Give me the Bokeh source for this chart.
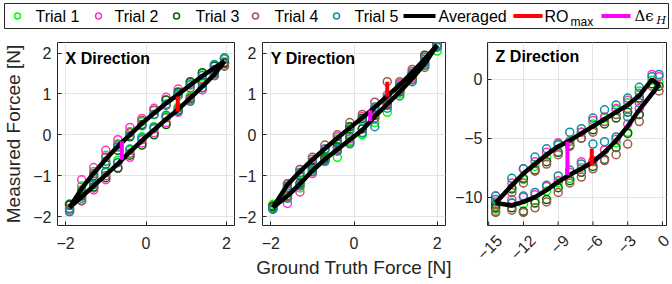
import math
from bokeh.plotting import figure
from bokeh.layouts import column, row
from bokeh.models import Range1d, FixedTicker, Label
from bokeh.core.properties import value
from bokeh.embed import file_html
from bokeh.resources import INLINE

# ---------------- data ----------------
trial_names = ["Trial 1", "Trial 2", "Trial 3", "Trial 4", "Trial 5"]
trial_colors = ["#00FF00", "#FF33CC", "#006400", "#A0594F", "#0E8FA3"]

# X direction
x_X = [-1.9, -1.6, -1.3, -1.0, -0.7, -0.4, -0.1, 0.2, 0.5, 0.8, 1.1, 1.4, 1.7, 1.95,
       1.95, 1.7, 1.4, 1.1, 0.8, 0.5, 0.2, -0.1, -0.4, -0.7, -1.0, -1.3, -1.6, -1.9]
avg_X = [-1.78, -1.52, -1.25, -0.98, -0.71, -0.42, -0.14, 0.12, 0.38, 0.62, 0.9, 1.18, 1.48, 1.8,
         1.8, 1.64, 1.44, 1.22, 0.99, 0.77, 0.53, 0.28, 0.0, -0.28, -0.6, -0.94, -1.32, -1.78]
X_t1 = [-1.72, -1.45, -1.2, -0.9, -0.62, -0.38, -0.05, 0.2, 0.45, 0.68, 0.95, 1.25, 1.55, 1.85,
        1.86, 1.7, 1.5, 1.25, 1.02, 0.85, 0.6, 0.32, 0.08, -0.22, -0.5, -0.9, -1.25, -1.7]
X_t2 = [-1.8, -1.6, -1.35, -1.1, -0.8, -0.55, -0.2, 0.05, 0.3, 0.55, 0.85, 1.1, 1.45, 1.75,
        1.78, 1.55, 1.38, 1.28, 1.12, 0.92, 0.65, 0.4, 0.18, -0.12, -0.38, -0.8, -1.1, -1.72]
X_t3 = [-1.7, -1.5, -1.28, -1.05, -0.82, -0.5, -0.25, 0.0, 0.25, 0.6, 0.9, 1.28, 1.52, 1.75,
        1.76, 1.68, 1.52, 1.3, 1.05, 0.85, 0.5, 0.25, -0.05, -0.38, -0.72, -1.0, -1.45, -1.72]
X_t4 = [-1.82, -1.62, -1.3, -1.0, -0.68, -0.45, -0.12, 0.15, 0.42, 0.65, 0.88, 1.15, 1.45, 1.68,
        1.7, 1.6, 1.35, 1.15, 0.95, 0.72, 0.6, 0.35, 0.05, -0.25, -0.55, -0.95, -1.35, -1.82]
X_t5 = [-1.88, -1.55, -1.22, -0.92, -0.68, -0.35, -0.08, 0.18, 0.48, 0.58, 0.82, 1.15, 1.5, 1.88,
        1.88, 1.72, 1.45, 1.22, 1.0, 0.75, 0.5, 0.22, -0.02, -0.3, -0.65, -1.05, -1.4, -1.88]

# Y direction
x_Y = [-1.95, -1.6, -1.3, -1.0, -0.7, -0.4, -0.1, 0.2, 0.5, 0.8, 1.1, 1.4, 1.7, 2.0,
       2.0, 1.7, 1.4, 1.1, 0.8, 0.5, 0.2, -0.1, -0.4, -0.7, -1.0, -1.3, -1.6, -1.95]
avg_Y = [-1.78, -1.5, -1.2, -0.88, -0.6, -0.36, -0.12, 0.12, 0.45, 0.75, 1.05, 1.38, 1.74, 2.2,
         2.2, 1.85, 1.53, 1.22, 0.95, 0.67, 0.42, 0.17, -0.08, -0.34, -0.61, -0.9, -1.22, -1.78]
Y_t1 = [-1.75, -1.55, -1.3, -0.85, -0.58, -0.55, -0.15, 0.0, 0.3, 0.55, 1.0, 1.45, 1.72, 2.05,
        2.15, 1.75, 1.45, 1.15, 0.85, 0.6, 0.4, 0.15, -0.1, -0.4, -0.65, -0.95, -1.3, -1.7]
Y_t2 = [-1.8, -1.68, -1.4, -0.95, -0.65, -0.38, -0.1, 0.15, 0.42, 0.78, 1.25, 1.4, 1.75, 2.15,
        2.2, 1.9, 1.55, 1.25, 0.98, 0.65, 0.45, 0.2, -0.05, -0.35, -0.6, -0.85, -1.2, -1.78]
Y_t3 = [-1.75, -1.5, -1.18, -0.82, -0.55, -0.3, -0.05, 0.15, 0.48, 0.75, 1.05, 1.35, 1.8, 2.2,
        2.2, 1.95, 1.5, 1.18, 0.85, 0.62, 0.4, 0.2, -0.2, -0.6, -0.8, -1.0, -1.3, -1.75]
Y_t4 = [-1.8, -1.5, -1.25, -0.9, -0.62, -0.35, -0.18, 0.05, 0.4, 0.72, 1.08, 1.35, 1.65, 2.15,
        2.2, 1.9, 1.6, 1.3, 1.3, 0.8, 0.5, 0.3, 0.0, -0.25, -0.55, -0.85, -1.2, -1.8]
Y_t5 = [-1.82, -1.55, -1.22, -0.9, -0.65, -0.4, -0.22, 0.05, 0.2, 0.65, 0.95, 1.3, 1.7, 2.18,
        2.15, 1.85, 1.5, 1.2, 0.92, 0.68, 0.35, 0.12, -0.15, -0.35, -0.68, -0.92, -1.25, -1.82]

# Z direction
x_Z = [-14.4, -13.0, -12.0, -11.0, -10.0, -9.0, -8.0, -7.0, -6.0, -5.0, -4.0, -3.0, -2.0, -0.3,
       -0.9, -2.0, -3.0, -4.0, -5.0, -6.0, -7.0, -8.0, -9.0, -10.0, -11.0, -12.0, -13.0, -14.4]
avg_Z = [-10.5, -10.7, -10.4, -10.0, -9.4, -8.7, -8.1, -7.6, -7.0, -6.2, -5.2, -4.0, -2.6, -0.5,
         -0.05, -1.4, -2.2, -2.8, -3.4, -4.0, -4.6, -5.2, -5.7, -6.4, -7.2, -8.0, -9.0, -10.5]
Z_t1 = [-11.0, -10.5, -10.6, -10.3, -9.5, -8.8, -8.4, -7.5, -7.0, -6.0, -5.4, -4.5, -3.0, -0.3,
        -0.1, -1.0, -2.0, -2.6, -3.3, -3.8, -4.5, -5.2, -5.6, -6.6, -7.4, -8.5, -9.2, -10.8]
Z_t2 = [-10.4, -10.2, -10.0, -9.8, -9.1, -8.6, -7.9, -7.0, -6.9, -6.0, -5.1, -3.8, -2.5, 0.2,
        0.4, -1.2, -1.8, -2.5, -3.2, -3.5, -4.5, -5.3, -5.4, -6.2, -7.0, -7.6, -8.8, -9.9]
Z_t3 = [-10.9, -10.9, -11.2, -10.5, -10.2, -9.2, -8.6, -7.9, -7.4, -6.8, -5.8, -4.6, -3.0, -0.6,
        -0.4, -1.6, -2.8, -3.3, -3.8, -4.3, -5.0, -5.6, -6.2, -7.0, -7.7, -8.4, -9.3, -10.6]
Z_t4 = [-11.3, -11.1, -11.3, -10.9, -10.4, -9.6, -8.8, -8.3, -7.6, -6.9, -6.4, -5.5, -3.6, -1.0,
        -0.6, -1.7, -2.5, -3.0, -3.6, -4.5, -5.0, -5.7, -6.4, -7.2, -7.8, -8.8, -9.6, -11.2]
Z_t5 = [-10.2, -10.5, -9.9, -9.6, -9.0, -8.2, -7.7, -7.2, -5.5, -5.3, -4.9, -3.2, -2.0, 0.4,
        0.2, -0.7, -1.6, -2.2, -2.6, -3.3, -4.2, -4.5, -5.5, -5.9, -6.6, -7.6, -8.4, -9.9]

# RO_max and delta-epsilon_H markers (x, y_from, y_to) for X, Y, Z
ro_x = [0.79, 0.8, -6.1]
ro_y0 = [0.57, 0.93, -7.3]
ro_y1 = [0.94, 1.3, -5.9]
dh_x = [-0.6, 0.39, -8.2]
dh_y0 = [-0.61, 0.34, -8.1]
dh_y1 = [-0.16, 0.6, -5.3]

# axis ticks
ticks_XY = [-2, 0, 2]
yticks_XY = [-2, -1, 0, 1, 2]
xticks_Z = [-15, -12, -9, -6, -3, 0]
yticks_Z = [-10, -5, 0]

# ---------------- style ----------------
FONT = "Liberation Sans"
INK = "#262626"
GRID = "#E4E4E4"


def make_panel(width, border_left, border_right, xr, yr, xticks, yticks, ystandoff=6):
    p = figure(width=width, height=253, x_range=Range1d(*xr), y_range=Range1d(*yr),
               title=None, output_backend="svg", toolbar_location=None,
               min_border_left=border_left, min_border_right=border_right,
               min_border_top=11, min_border_bottom=59)
    p.outline_line_color = INK
    p.outline_line_width = 1
    p.background_fill_color = "white"
    p.border_fill_color = None
    xa = p.below[0]
    ya = p.left[0]
    for ax, tks in ((xa, xticks), (ya, yticks)):
        ax.ticker = FixedTicker(ticks=tks)
        ax.axis_line_color = None
        ax.major_tick_in = 4
        ax.major_tick_out = 0
        ax.major_tick_line_color = INK
        ax.minor_tick_line_color = None
        ax.major_label_text_font = FONT
        ax.major_label_text_font_size = "16px"
        ax.major_label_text_color = INK
    xa.major_label_standoff = 11
    ya.major_label_standoff = ystandoff
    p.xgrid.ticker = FixedTicker(ticks=xticks)
    p.ygrid.ticker = FixedTicker(ticks=yticks)
    for g in (p.xgrid[0], p.ygrid[0]):
        g.grid_line_color = GRID
        g.grid_line_width = 1
    return p, xa, ya


def draw(p, xs, trials, avg, k, title, tx, ty):
    for ys, c in zip(trials, trial_colors):
        p.scatter(xs, ys, marker="circle", size=8, fill_color=None,
                  line_color=c, line_width=1.5)
    p.line(xs, avg, line_color="black", line_width=4.5)
    p.segment(x0=[ro_x[k]], y0=[ro_y0[k]], x1=[ro_x[k]], y1=[ro_y1[k]],
              line_color="#FF0000", line_width=4)
    p.segment(x0=[dh_x[k]], y0=[dh_y0[k]], x1=[dh_x[k]], y1=[dh_y1[k]],
              line_color="#FF00FF", line_width=4)
    p.add_layout(Label(x=tx, y=ty, text=title, text_font=FONT, text_font_style="bold",
                       text_font_size="16px", text_color="black", text_baseline="middle"))


Z_XR = (-15.1, 0.35)
Z_YR = (-12.4, 3.1)
p1, p1x, p1y = make_panel(235, 51, 1, (-2.2, 2.2), (-2.22, 2.26), ticks_XY, yticks_XY)
p2, p2x, p2y = make_panel(217, 26, 7, (-2.2, 2.2), (-2.22, 2.26), ticks_XY, yticks_XY)
p3, p3x, p3y = make_panel(220, 29, 6, Z_XR, Z_YR, xticks_Z, yticks_Z, ystandoff=5)

# Z panel: inner bottom tick marks at the true tick positions
p3.segment(x0=xticks_Z, y0=[Z_YR[0]] * len(xticks_Z), x1=xticks_Z,
           y1=[Z_YR[0] + 0.34] * len(xticks_Z), line_color=INK, line_width=1)

draw(p1, x_X, [X_t1, X_t2, X_t3, X_t4, X_t5], avg_X, 0, "X Direction", -2.0, 1.88)
draw(p2, x_Y, [Y_t1, Y_t2, Y_t3, Y_t4, Y_t5], avg_Y, 1, "Y Direction", -2.0, 1.88)
draw(p3, x_Z, [Z_t1, Z_t2, Z_t3, Z_t4, Z_t5], avg_Z, 2, "Z Direction", -14.4, 1.9)

p1y.axis_label = "Measured Forcee [N]"
p1y.axis_label_text_font = FONT
p1y.axis_label_text_font_size = "19px"
p1y.axis_label_text_font_style = "normal"
p1y.axis_label_text_color = INK
p1y.axis_label_standoff = 6

p2x.axis_label = "Ground Truth Force [N]"
p2x.axis_label_text_font = FONT
p2x.axis_label_text_font_size = "19px"
p2x.axis_label_text_font_style = "normal"
p2x.axis_label_text_color = INK
p2x.axis_label_standoff = 5

# Z panel: rotated tick labels; a label-only axis on a slightly offset range so the
# right-aligned rotated labels sit like MATLAB's (centred under their ticks)
p3.extra_x_ranges = {"zlabels": Range1d(-16.03, 0.01)}
p3x.x_range_name = "zlabels"
p3x.major_tick_line_color = None
p3x.major_label_orientation = math.pi / 4
p3x.major_label_standoff = 12

# ---------------- legend (own strip) ----------------
leg = figure(width=672, height=31, x_range=Range1d(0, 664), y_range=Range1d(0, 25),
             title=None, output_backend="svg", toolbar_location=None,
             min_border_left=4, min_border_right=4, min_border_top=3, min_border_bottom=3)
leg.axis.visible = False
leg.grid.visible = False
leg.outline_line_color = INK
leg.outline_line_width = 1
leg.border_fill_color = None

leg_marker_x = [13, 94, 172, 251, 332]
leg_text_x = [31, 110, 191, 270, 350]
for mx, c in zip(leg_marker_x, trial_colors):
    leg.scatter([mx], [12.5], marker="circle", size=6, fill_color=None, line_color=c, line_width=1.5)
leg.text(x=leg_text_x, y=[12.5] * 5, text=trial_names, text_font=value(FONT),
         text_font_size="16px", text_color="black", text_baseline="middle")

leg_line_x0 = [399, 509, 597]
leg_line_x1 = [431, 538, 626]
leg_line_c = ["black", "#FF0000", "#FF00FF"]
leg.segment(x0=leg_line_x0, y0=[12.5] * 3, x1=leg_line_x1, y1=[12.5] * 3,
            line_color=leg_line_c, line_width=4)
leg.text(x=[434, 540], y=[12.5, 12.5], text=["Averaged", "RO"], text_font=value(FONT),
         text_font_size="16px", text_color="black", text_baseline="middle")
leg.text(x=[566], y=[7], text=["max"], text_font=value(FONT),
         text_font_size="12px", text_color="black", text_baseline="middle")
leg.text(x=[630], y=[12.5], text=["Δϵ"], text_font=value("DejaVu Serif"),
         text_font_size="15px", text_color="black", text_baseline="middle")
leg.text(x=[652], y=[8.5], text=["H"], text_font=value("DejaVu Serif"),
         text_font_size="11px", text_font_style="italic", text_color="black",
         text_baseline="middle")

layout = column(leg, row(p1, p2, p3))
open("out.html", "w").write(file_html(layout, INLINE))
